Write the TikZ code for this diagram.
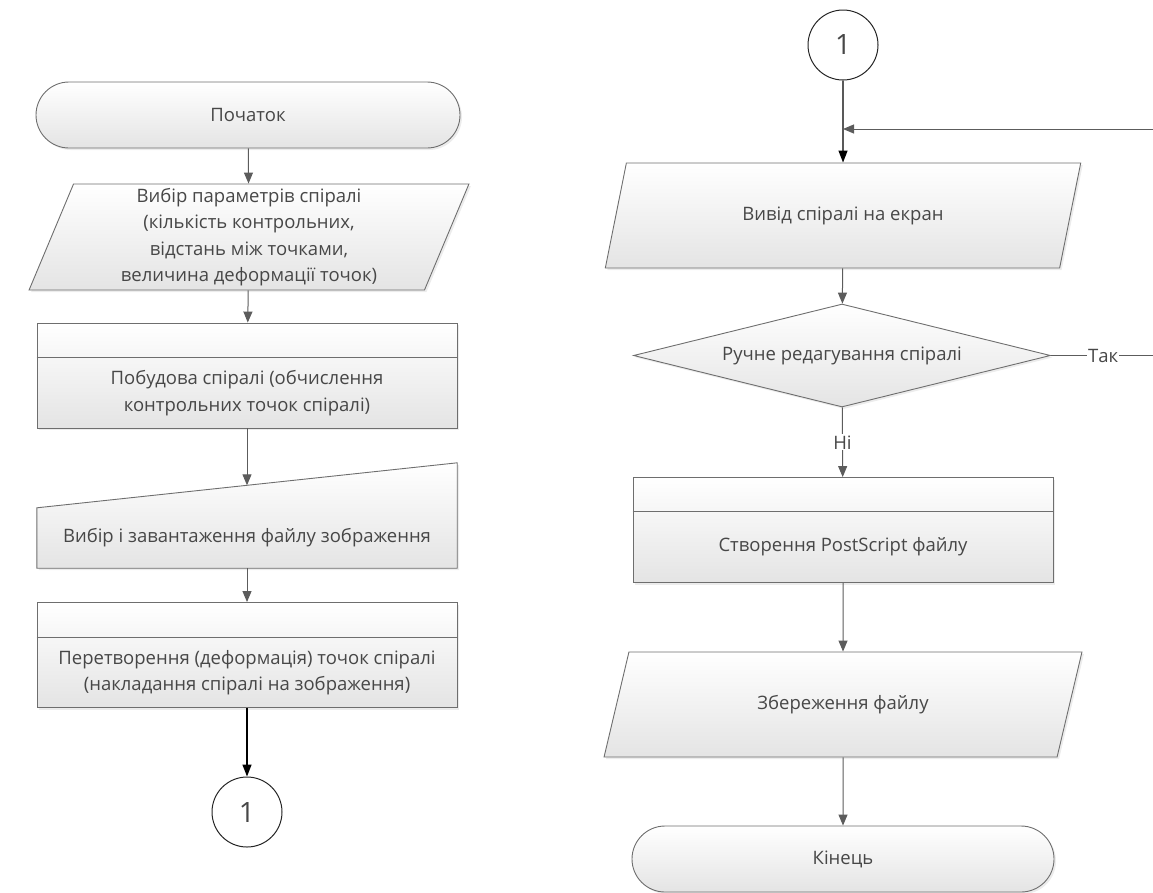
\documentclass[tikz,border=0pt]{standalone}
\usepackage{fontspec}
\setmainfont{Open Sans}
\usepackage{tikz}
\usetikzlibrary{shapes.geometric, arrows.meta, shadows}

\definecolor{linegray}{HTML}{6E6E6E}
\definecolor{fillgray}{HTML}{E4E4E4}
\definecolor{txtgray}{HTML}{474747}
\definecolor{arrgray}{HTML}{5C5C5C}

\begin{document}
\begin{tikzpicture}[x=1pt, y=-1pt,
    every node/.style={font=\fontsize{18.5}{26.5}\selectfont, text=txtgray},
    base/.style={draw=linegray, line width=0.9pt, top color=white, bottom color=fillgray,
                 drop shadow={opacity=0.15, shadow xshift=2pt, shadow yshift=-2pt}},
    term/.style={base, rectangle, rounded corners=33pt, minimum width=424pt,
                 minimum height=66pt},
    io/.style={base, trapezium, trapezium stretches=true, inner sep=0pt, align=center},
    proc/.style={base, rectangle, minimum width=420pt, minimum height=105pt},
    manin/.style={rectangle, minimum width=420pt, minimum height=60pt},
    dec/.style={base, diamond, aspect=4, inner sep=0pt, minimum width=417pt,
                minimum height=103pt},
    conn/.style={circle, draw=black!85, fill=white, line width=1pt, minimum size=70pt,
                 font=\fontsize{28}{28}\selectfont},
    sep/.style={draw=linegray, line width=0.9pt},
    arrow/.style={-{Triangle[length=11pt, width=9pt]}, arrgray, line width=1pt},
    black arrow/.style={-{Triangle[length=12pt, width=9pt]}, black, line width=1.3pt},
    lbl/.style={fill=white, inner sep=1pt}
  ]
  \useasboundingbox (0,0) rectangle (1153,892);

  % Left column
  \node[term] (start) at (248,115) {Початок};
  \node[io, trapezium left angle=71.7, trapezium right angle=108.3,
        minimum width=440pt, minimum height=106pt] (params) at (249,237)
    {Вибір параметрів спіралі\\(кількість контрольних,\\відстань між точками,\\величина деформації точок)};
  \node[proc] (build) at (247,375.5) {};
  \draw[sep] ([yshift=-35pt]build.north west) -- ([yshift=-35pt]build.north east);
  \node[align=center] (buildtxt) at ([yshift=-17.5pt]build.center)
    {Побудова спіралі (обчислення\\контрольних точок спіралі)};
  \node[manin] (load) at (247,538) {};
  \draw[base] (load.south west) -- (load.south east) -- ([yshift=45pt]load.north east)
    -- (load.north west) -- cycle;
  \node (loadtxt) at (load.center) {Вибір і завантаження файлу зображення};
  \coordinate (loadtop) at ([yshift=22.5pt]load.north);
  \node[proc] (deform) at (247,655) {};
  \draw[sep] ([yshift=-35pt]deform.north west) -- ([yshift=-35pt]deform.north east);
  \node[align=center] (deformtxt) at ([yshift=-17.5pt]deform.center)
    {Перетворення (деформація) точок спіралі\\(накладання спіралі на зображення)};
  \node[conn] (c1) at (247,812) {1};

  % Right column
  \node[conn] (c2) at (843,45) {1};
  \coordinate (join) at (843,129);
  \node[io, trapezium left angle=61.5, trapezium right angle=118.5,
        minimum width=477pt, minimum height=105pt] (show) at (843,215.5)
    {Вивід спіралі на екран};
  \node[dec] (edit) at (842,355.5) {Ручне редагування спіралі};
  \node[proc] (ps) at (843,530) {};
  \draw[sep] ([yshift=-34pt]ps.north west) -- ([yshift=-34pt]ps.north east);
  \node (pstxt) at ([yshift=-17pt]ps.center) {Створення PostScript файлу};
  \node[io, trapezium left angle=61.9, trapezium right angle=118.1,
        minimum width=478pt, minimum height=105pt] (save) at (843,704.5)
    {Збереження файлу};
  \node[term, minimum width=422pt] (end) at (843,859) {Кінець};
  \coordinate (loopR) at (1185,355.5);

  % Connections
  \draw[arrow] (start) -- (params);
  \draw[arrow] (params) -- (build);
  \draw[arrow] (build) -- (loadtop);
  \draw[arrow] (load) -- (deform);
  \draw[black arrow, line width=1.6pt] (deform) -- (c1);
  \draw[black arrow] (c2) -- (show);
  \draw[arrow] (edit.east) -- node[lbl, pos=0.39] {Так} (loopR) |- (join);
  \draw[arrow] (show) -- (edit);
  \draw[arrow] (edit) -- node[lbl] {Ні} (ps);
  \draw[arrow] (ps) -- (save);
  \draw[arrow] (save) -- (end);

\end{tikzpicture}
\end{document}
